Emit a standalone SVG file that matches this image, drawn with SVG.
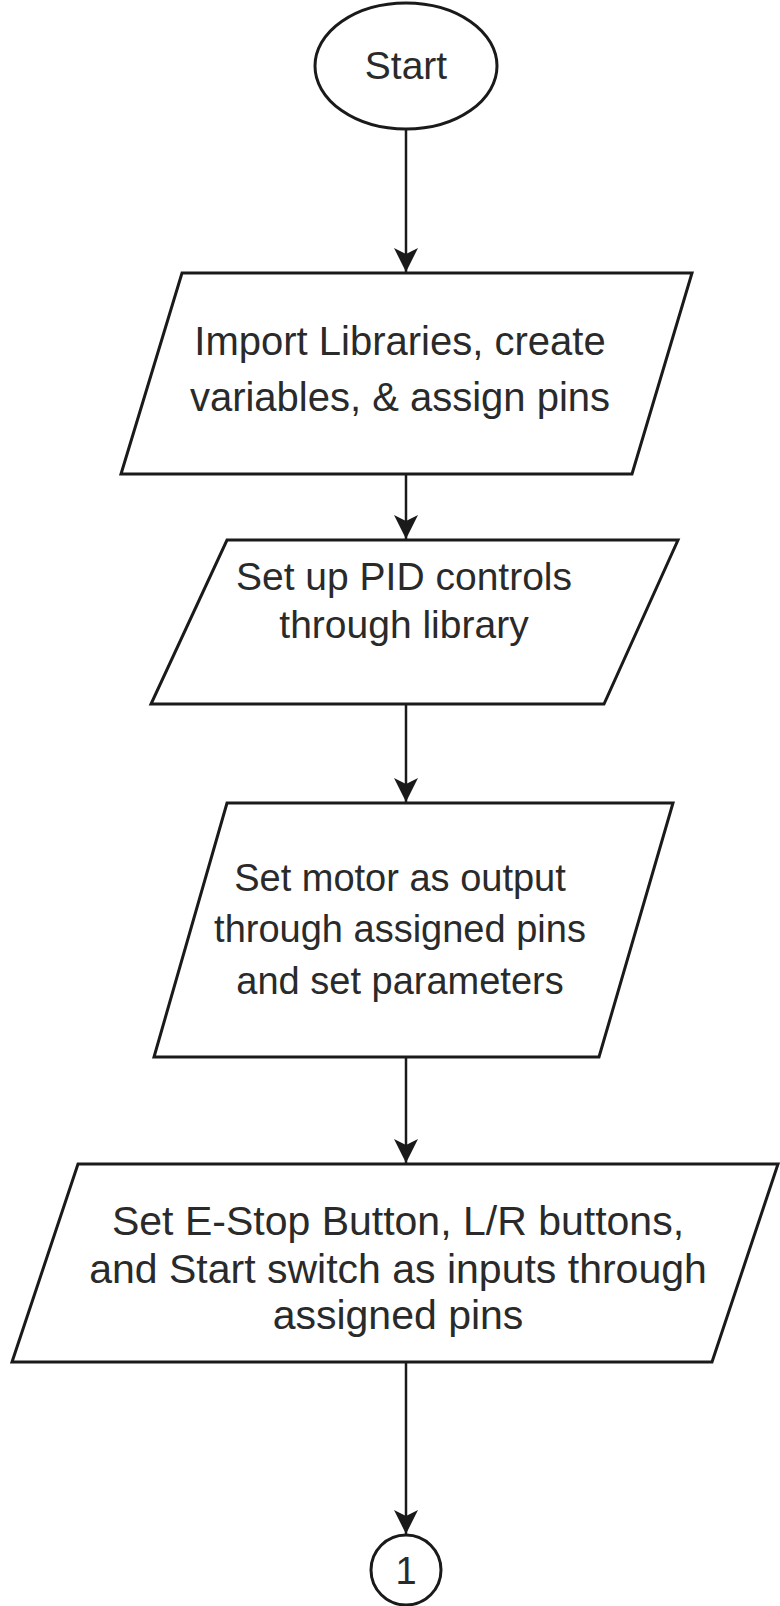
<svg xmlns="http://www.w3.org/2000/svg" width="780" height="1606" viewBox="0 0 780 1606">
<style>
.shape{fill:#ffffff;stroke:#1a1a1a;stroke-width:3}
.conn{fill:none;stroke:#1a1a1a;stroke-width:2.5}
.lbl{font-family:"Liberation Sans",Arial,sans-serif;font-size:39px;fill:#2a2a2a;text-anchor:middle}
</style>
<defs>
<marker id="arr" markerUnits="userSpaceOnUse" viewBox="0 0 24 26" refX="24" refY="12" markerWidth="24" markerHeight="26" orient="auto">
<path d="M0,0 L24,12 L0,24 L6,12 Z" fill="#1a1a1a"/>
</marker>
</defs>
<rect width="780" height="1606" fill="#ffffff"/>
<g id="connectors">
<line class="conn" x1="406" y1="129" x2="406" y2="272" marker-end="url(#arr)"/>
<line class="conn" x1="406" y1="474" x2="406" y2="539" marker-end="url(#arr)"/>
<line class="conn" x1="406" y1="704" x2="406" y2="802" marker-end="url(#arr)"/>
<line class="conn" x1="406" y1="1057" x2="406" y2="1163" marker-end="url(#arr)"/>
<line class="conn" x1="406" y1="1362" x2="406" y2="1534" marker-end="url(#arr)"/>
</g>
<g id="start">
<ellipse class="shape" cx="406" cy="66" rx="91" ry="63"/>
<text class="lbl" x="406" y="79" style="font-size:39px">Start</text>
</g>
<g id="import">
<polygon class="shape" points="182,273 692,273 632,474 121,474"/>
<text class="lbl" x="400" y="355" style="font-size:40px">Import Libraries, create</text>
<text class="lbl" x="400" y="411" style="font-size:40px">variables, &amp; assign pins</text>
</g>
<g id="pid">
<polygon class="shape" points="227,540 678,540 604,704 151,704"/>
<text class="lbl" x="404" y="590">Set up PID controls</text>
<text class="lbl" x="404" y="638">through library</text>
</g>
<g id="motor">
<polygon class="shape" points="227,803 673,803 599,1057 154,1057"/>
<text class="lbl" x="400" y="891" style="font-size:38px">Set motor as output</text>
<text class="lbl" x="400" y="942" style="font-size:38px">through assigned pins</text>
<text class="lbl" x="400" y="994" style="font-size:38px">and set parameters</text>
</g>
<g id="inputs">
<polygon class="shape" points="78,1164 778,1164 712,1362 12,1362"/>
<text class="lbl" x="398" y="1235" style="font-size:41px">Set E-Stop Button, L/R buttons,</text>
<text class="lbl" x="398" y="1283" style="font-size:41px">and Start switch as inputs through</text>
<text class="lbl" x="398" y="1329" style="font-size:41px">assigned pins</text>
</g>
<g id="connector1">
<circle class="shape" cx="406" cy="1570" r="35"/>
<text class="lbl" x="406" y="1584" style="font-size:38px">1</text>
</g>
</svg>
